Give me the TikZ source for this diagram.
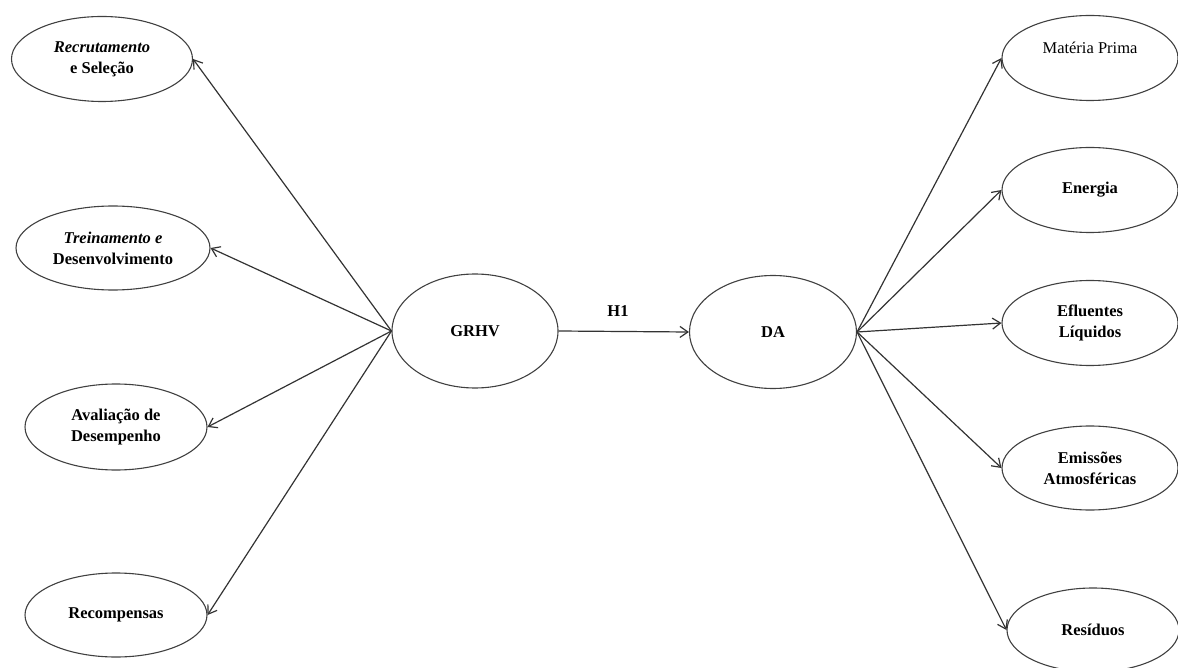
\documentclass[tikz,border=0pt]{standalone}
\usepackage{fontspec}
\setmainfont{Liberation Serif}
\usetikzlibrary{shapes.geometric,arrows.meta}
\begin{document}
\begin{tikzpicture}[x=1pt,y=-1pt,
  ell/.style={ellipse,draw=black!75,line width=1.1pt,inner sep=0pt,align=center,
    font=\fontsize{16.5}{21}\selectfont\bfseries},
  lbl/.style={font=\fontsize{16.5}{21}\selectfont\bfseries},
  conn/.style={draw=black!80,line width=1.2pt,-{Straight Barb[length=8pt,width=11pt]}}]
\useasboundingbox (0,0) rectangle (1178,668);
% left
\node[ell,minimum width=181,minimum height=85] (rs) at (102,59) {\textit{Recrutamento}\\e Seleção};
\node[ell,minimum width=194,minimum height=84] (td) at (113,248) {\textit{Treinamento e}\\Desenvolvimento};
\node[ell,minimum width=182,minimum height=86] (ad) at (116,427) {Avaliação de\\Desempenho};
\node[ell,minimum width=182,minimum height=84] (rc) at (116,615) {Recompensas};
% center
\node[ell,minimum width=166,minimum height=114] (grhv) at (475,331) {GRHV};
\node[ell,minimum width=167,minimum height=113] (da) at (773,332) {DA};
% right
\node[ell,minimum width=176,minimum height=85,font=\fontsize{16.5}{21}\selectfont] (mp) at (1090,58) {Matéria Prima\\~};
\node[ell,minimum width=176,minimum height=85] (en) at (1090,190) {Energia};
\node[ell,minimum width=176,minimum height=85] (ef) at (1090,323) {Efluentes\\Líquidos};
\node[ell,minimum width=176,minimum height=84] (em) at (1090,468) {Emissões\\Atmosféricas};
\node[ell,minimum width=172,minimum height=84] (re) at (1093,630) {Resíduos};
% connectors
\foreach \t in {rs,td,ad,rc} \draw[conn] (grhv.west) -- (\t.east);
\foreach \t in {mp,en,ef,em,re} \draw[conn] (da.east) -- (\t.west);
\draw[conn] (grhv.east) -- (da.west);
\node[lbl] (h1) at (618,311) {H1};
\end{tikzpicture}
\end{document}
